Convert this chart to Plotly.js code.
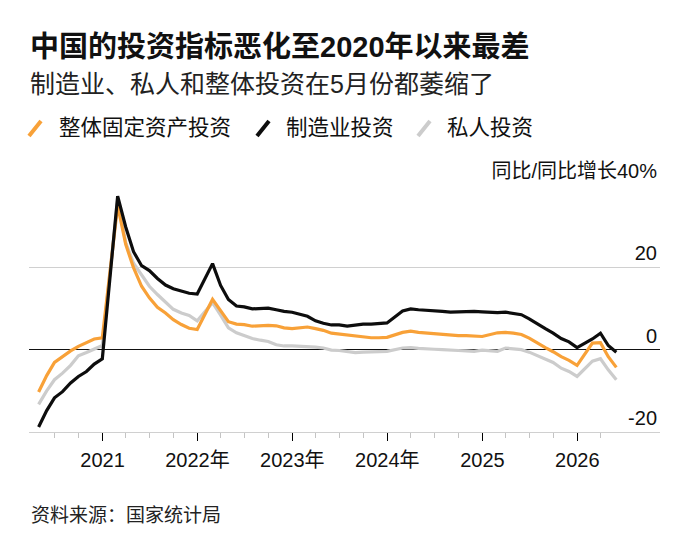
<!DOCTYPE html>
<html>
<head>
<meta charset="utf-8">
<script src="https://cdn.plot.ly/plotly-3.0.1.min.js"></script>
<style>
  html, body { margin: 0; padding: 0; background: #fff; }
  #chart { width: 680px; height: 544px; }
</style>
</head>
<body>
<div id="chart"></div>
<script>
// ---- Data (year-to-date, % change y/y; Jan-Feb reported together) ----
const periods = [
  '2020-04','2020-05','2020-06','2020-07','2020-08','2020-09','2020-10','2020-11','2020-12',
  '2021-02','2021-03','2021-04','2021-05','2021-06','2021-07','2021-08','2021-09','2021-10','2021-11','2021-12',
  '2022-02','2022-03','2022-04','2022-05','2022-06','2022-07','2022-08','2022-09','2022-10','2022-11','2022-12',
  '2023-02','2023-03','2023-04','2023-05','2023-06','2023-07','2023-08','2023-09','2023-10','2023-11','2023-12',
  '2024-02','2024-03','2024-04','2024-05','2024-06','2024-07','2024-08','2024-09','2024-10','2024-11','2024-12',
  '2025-02','2025-03','2025-04','2025-05','2025-06','2025-07','2025-08','2025-09','2025-10','2025-11','2025-12',
  '2026-02','2026-03','2026-04','2026-05'
];

const totalFAI = [
  -10.3, -6.3, -3.1, -1.6, -0.3, 0.8, 1.8, 2.6, 2.9,
  35.0, 25.6, 19.9, 15.4, 12.6, 10.3, 8.9, 7.3, 6.1, 5.2, 4.9,
  12.2, 9.3, 6.8, 6.2, 6.1, 5.7, 5.8, 5.9, 5.8, 5.3, 5.1,
  5.5, 5.1, 4.7, 4.0, 3.8, 3.4, 3.2, 3.1, 2.9, 2.9, 3.0,
  4.2, 4.5, 4.2, 4.0, 3.9, 3.6, 3.4, 3.4, 3.4, 3.3, 3.2,
  4.1, 4.2, 4.0, 3.7, 2.8, 1.6, 0.5, -0.5, -1.7, -2.6, -3.8,
  1.6, 1.7, -1.7, -4.3
];

const manufacturing = [
  -18.8, -14.8, -11.7, -10.2, -8.1, -6.5, -5.3, -3.5, -2.2,
  37.3, 29.8, 23.8, 20.4, 19.2, 17.3, 15.7, 14.8, 14.2, 13.7, 13.5,
  20.9, 15.6, 12.2, 10.6, 10.4, 9.9, 10.0, 10.1, 9.7, 9.3, 9.1,
  8.1, 7.0, 6.4, 6.0, 6.0, 5.7, 5.9, 6.2, 6.2, 6.3, 6.5,
  9.4, 9.9, 9.7, 9.6, 9.5, 9.3, 9.1, 9.2, 9.3, 9.3, 9.2,
  9.0, 9.1, 8.8, 8.5, 7.5, 6.2, 5.1, 4.0, 2.7, 1.9, 0.5,
  2.6, 4.0, 1.0, -0.6
];

const privateInv = [
  -13.3, -10.0, -7.3, -5.7, -3.8, -1.5, -0.7, 0.2, 1.0,
  36.4, 26.0, 21.0, 18.1, 15.4, 13.4, 11.5, 9.8, 8.9, 8.3, 7.0,
  11.4, 8.4, 5.3, 4.1, 3.5, 2.7, 2.3, 2.0, 1.2, 0.9, 0.9,
  0.8, 0.6, 0.4, -0.1, -0.2, -0.5, -0.7, -0.6, -0.5, -0.5, -0.4,
  0.4, 0.5, 0.3, 0.1, 0.1, 0.0, -0.2, -0.2, -0.3, -0.4, -0.1,
  -0.4, 0.4, 0.2, 0.0, -0.6, -1.5, -2.3, -3.1, -4.5, -5.3, -6.5,
  -2.8, -2.2, -4.9, -7.3
];

const seriesNames = ['整体固定资产投资', '制造业投资', '私人投资'];

const xTickVals = ['2021-01-01','2022-01-01','2023-01-01','2024-01-01','2025-01-01','2026-01-01'];
const xTickText = ['2021','2022年','2023年','2024年','2025','2026'];
const xMinorVals = [
  '2020-07-01','2020-10-01',
  '2021-04-01','2021-07-01','2021-10-01',
  '2022-04-01','2022-07-01','2022-10-01',
  '2023-04-01','2023-07-01','2023-10-01',
  '2024-04-01','2024-07-01','2024-10-01',
  '2025-04-01','2025-07-01','2025-10-01',
  '2026-04-01'
];
const yTickVals = [-20, 0, 20, 40];
const yTickText = ['-20', '0', '20', '同比/同比增长40%'];

const titleText = '中国的投资指标恶化至2020年以来最差';
const subtitleText = '制造业、私人和整体投资在5月份都萎缩了';
const sourceText = '资料来源：国家统计局';

// ---- helpers ----
function monthEnd(p) {
  const y = +p.slice(0, 4), m = +p.slice(5, 7);
  const d = new Date(Date.UTC(y, m, 0)).getUTCDate();
  return p + '-' + String(d).padStart(2, '0');
}
const dates = periods.map(monthEnd);

const W = 680, H = 544;
const M = { l: 29, r: 20, t: 185, b: 112 };
const plotH = H - M.t - M.b, plotW = W - M.l - M.r;
const py = y => (H - M.b - y) / plotH;
const px = x => (x - M.l) / plotW;

const FONT = 'Liberation Sans, Noto Sans CJK SC, sans-serif';
const ORANGE = '#f8a138', BLACK = '#0d0d0d', GREY = '#cccccc';

const traces = [
  { x: dates, y: privateInv, name: seriesNames[2], line: { color: GREY, width: 3.2 } },
  { x: dates, y: totalFAI, name: seriesNames[0], line: { color: ORANGE, width: 3.2 } },
  { x: dates, y: manufacturing, name: seriesNames[1], line: { color: BLACK, width: 3.2 } }
].map(t => Object.assign({ type: 'scatter', mode: 'lines', hoverinfo: 'skip' }, t));

// custom legend (slanted strokes)
const legendItems = [
  { color: ORANGE, x0: 29, text: seriesNames[0], tx: 57 },
  { color: BLACK, x0: 257, text: seriesNames[1], tx: 284 },
  { color: GREY, x0: 418, text: seriesNames[2], tx: 445 }
];
const shapes = legendItems.map(it => ({
  type: 'line', xref: 'paper', yref: 'paper',
  x0: px(it.x0), y0: py(136), x1: px(it.x0 + 12), y1: py(121),
  line: { color: it.color, width: 4 }
}));

const annotations = [
  { text: '<b>' + titleText + '</b>', x: px(28), y: py(47), font: { size: 29, color: '#111' } },
  { text: subtitleText, x: px(28), y: py(84), font: { size: 25, color: '#222' } },
  { text: sourceText, x: px(29), y: py(515), font: { size: 19, color: '#222' } }
].concat(legendItems.map(it => ({
  text: it.text, x: px(it.tx), y: py(128), font: { size: 21.5, color: '#111' }
}))).map(a => Object.assign({
  xref: 'paper', yref: 'paper', xanchor: 'left', yanchor: 'middle',
  showarrow: false, align: 'left'
}, a));

const layout = {
  width: W, height: H,
  margin: M,
  paper_bgcolor: '#fff', plot_bgcolor: '#fff',
  font: { family: FONT, color: '#111' },
  showlegend: false,
  xaxis: {
    type: 'date',
    range: ['2020-03-24', '2026-11-15'],
    tickmode: 'array', tickvals: xTickVals, ticktext: xTickText,
    ticks: 'outside', ticklen: 8, tickwidth: 1.5, tickcolor: '#000',
    tickfont: { size: 20, color: '#111' },
    ticklabelstandoff: 2,
    showgrid: false, zeroline: false,
    showline: true, linecolor: '#d0d0d0', linewidth: 1,
    minor: { tickmode: 'array', tickvals: xMinorVals, ticks: 'outside', ticklen: 5, tickwidth: 1, tickcolor: '#c4c4c4', showgrid: false },
    fixedrange: true
  },
  yaxis: {
    range: [-20, 40],
    side: 'right',
    tickmode: 'array', tickvals: yTickVals, ticktext: yTickText,
    ticklabelposition: 'inside top',
    ticklabeloverflow: 'allow',
    ticks: '',
    tickfont: { size: 20, color: '#111' },
    showgrid: true, gridcolor: '#d0d0d0', gridwidth: 1,
    zeroline: true, zerolinecolor: '#111', zerolinewidth: 1.5,
    showline: false,
    fixedrange: true
  },
  shapes: shapes,
  annotations: annotations
};

Plotly.newPlot('chart', traces, layout, { displayModeBar: false, staticPlot: true });
</script>
</body>
</html>
